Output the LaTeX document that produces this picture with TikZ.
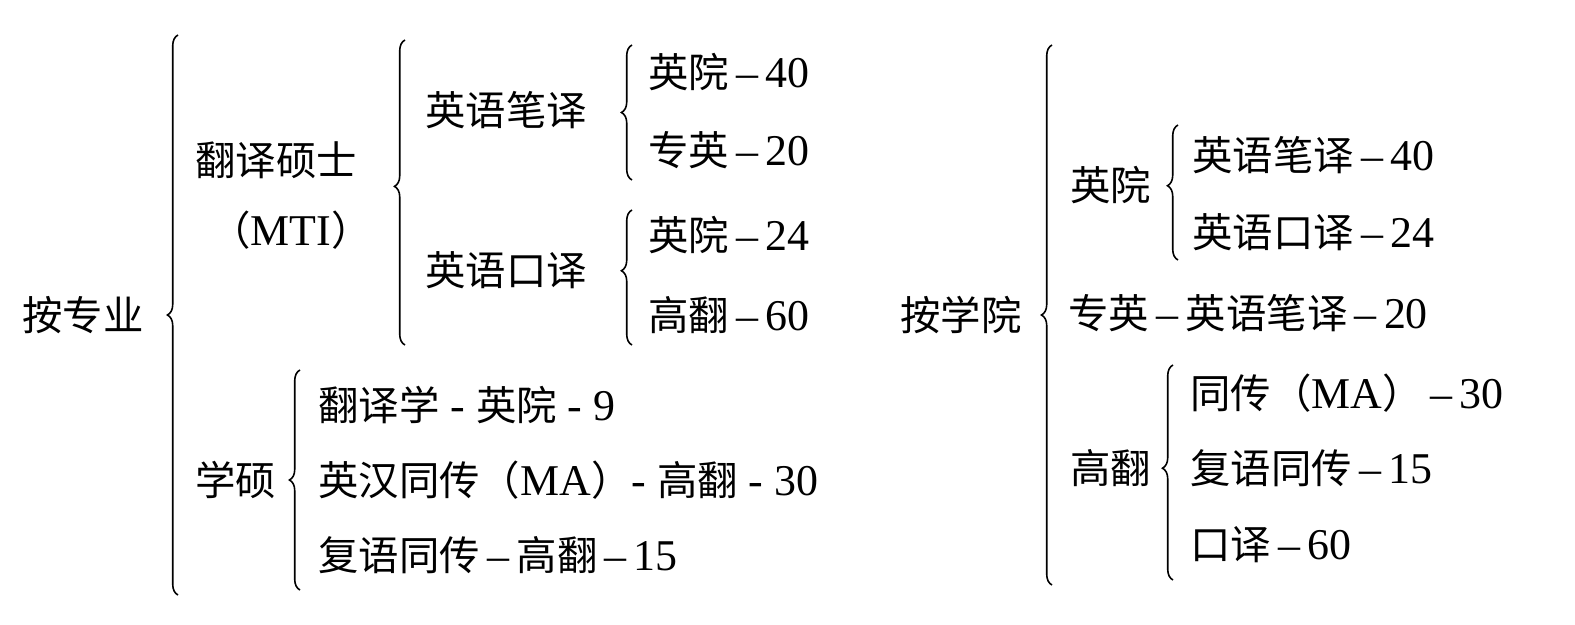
\documentclass[tikz,border=0pt]{standalone}
\usepackage{fontspec}
\setmainfont{Liberation Serif}
\newfontfamily\cjk{Noto Sans CJK SC}[Scale=0.92]
\usetikzlibrary{decorations.pathreplacing}
\tikzset{
  t/.style={anchor=west,inner sep=0pt,font=\fontsize{25}{30}\selectfont},
  br/.style={decorate,decoration={brace,amplitude=6pt,aspect=#1},line width=0.9pt},
}
\newcommand\C[1]{{\cjk #1}}
\begin{document}
\begin{tikzpicture}[x=0.02cm,y=-0.02cm]
\useasboundingbox (0,0) rectangle (1575,625);
% left
\node[t] (a) at (22,315) {\C{按专业}};
\draw[br=0.5] (178,595) -- (178,35);
\node[t] (b) at (195,160) {\C{翻译硕士}};
\node[t] (b2) at (210,230) {\C{（}MTI\C{）}};
\draw[br=0.52] (405,345) -- (405,40);
\node[t] (c) at (425,110) {\C{英语笔译}};
\draw[br=0.5] (632,180) -- (632,45);
\node[t] (c1) at (648,72) {\C{英院}\,–\,40};
\node[t] (c2) at (648,150) {\C{专英}\,–\,20};
\node[t] (d) at (425,270) {\C{英语口译}};
\draw[br=0.55] (632,345) -- (632,210);
\node[t] (d1) at (648,235) {\C{英院}\,–\,24};
\node[t] (d2) at (648,315) {\C{高翻}\,–\,60};
\node[t] (e) at (195,480) {\C{学硕}};
\draw[br=0.5] (300,590) -- (300,370);
\node[t] (e1) at (318,405) {\C{翻译学} - \C{英院} - 9};
\node[t] (e2) at (318,480) {\C{英汉同传（}MA\C{）}- \C{高翻} - 30};
\node[t] (e3) at (318,555) {\C{复语同传}\,–\,\C{高翻}\,–\,15};
% right
\node[t] (f) at (900,315) {\C{按学院}};
\draw[br=0.5] (1052,585) -- (1052,45);
\node[t] (g) at (1070,185) {\C{英院}};
\draw[br=0.55] (1178,260) -- (1178,125);
\node[t] (g1) at (1192,155) {\C{英语笔译}\,–\,40};
\node[t] (g2) at (1192,232) {\C{英语口译}\,–\,24};
\node[t] (h) at (1068,313) {\C{专英}\,–\,\C{英语笔译}\,–\,20};
\node[t] (k) at (1070,468) {\C{高翻}};
\draw[br=0.52] (1173,580) -- (1173,365);
\node[t] (k1) at (1190,393) {\C{同传（}MA\C{）}\,–\,30};
\node[t] (k2) at (1190,468) {\C{复语同传}\,–\,15};
\node[t] (k3) at (1190,545) {\C{口译}\,–\,60};
\end{tikzpicture}
\end{document}
